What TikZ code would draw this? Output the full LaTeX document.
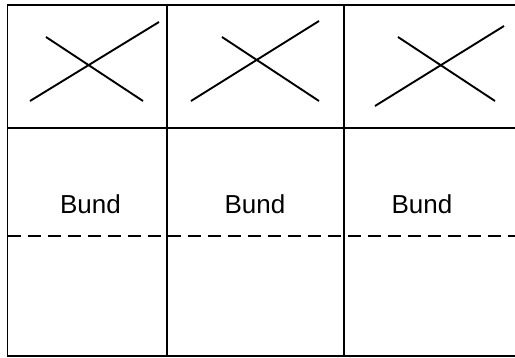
\documentclass[tikz,border=0pt]{standalone}
\usepackage{fontspec}
\setmainfont{Liberation Sans}
\begin{document}
\begin{tikzpicture}[x=1pt,y=-1pt,
  frame/.style={line width=1.9pt,black},
  dashline/.style={line width=1.9pt,dash pattern=on 13pt off 7pt},
  crossline/.style={line width=1.9pt,line cap=butt},
  lbl/.style={font=\fontsize{26}{30}\selectfont,anchor=base,inner sep=0pt}]
\useasboundingbox (0,0) rectangle (515,358);
% outer frame (right side open)
\draw[frame] (520,5) -- (7.5,5) -- (7.5,356) -- (520,356);
\draw[frame] (167,5) -- (167,356);
\draw[frame] (344,5) -- (344,356);
\draw[frame] (7.5,128) -- (520,128);
\draw[dashline] (7.5,236) -- (520,236);
% crosses
\draw[crossline] (30,101) -- (159,22);
\draw[crossline] (46,37) -- (143,101);
\draw[crossline] (191,101) -- (319,21);
\draw[crossline] (222,37) -- (319,101);
\draw[crossline] (375,106) -- (504,26);
\draw[crossline] (398,37) -- (495,101);
% labels
\node[lbl] (b1) at (90.5,214) {Bund};
\node[lbl] (b2) at (255,214) {Bund};
\node[lbl] (b3) at (422,214) {Bund};
\end{tikzpicture}
\end{document}
